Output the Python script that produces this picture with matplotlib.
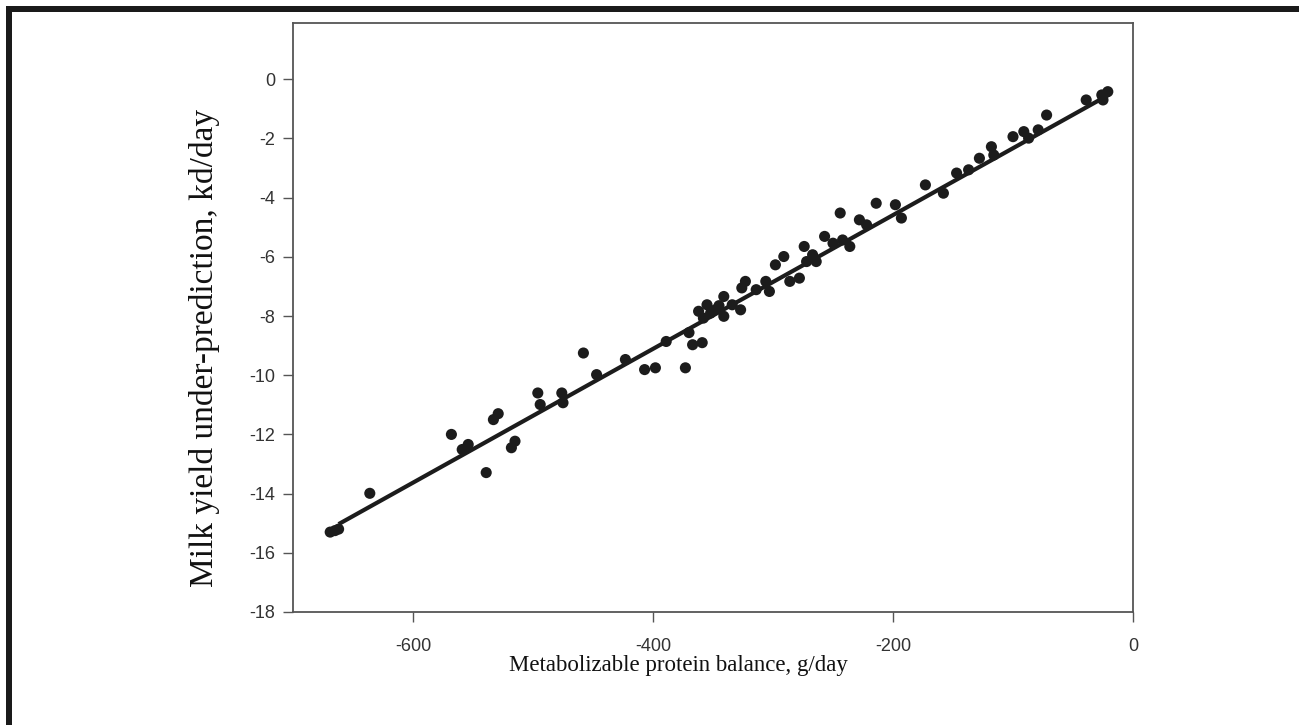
import matplotlib
matplotlib.use("Agg")
import matplotlib.pyplot as plt
from matplotlib.patches import Rectangle

# Metabolizable protein balance (g/day) and milk yield under-prediction (kg/day)
mp_balance = [-669, -665, -662, -636, -568, -559, -554, -539, -533, -529,
              -518, -515, -496, -494, -476, -475, -458, -447, -423, -407,
              -398, -389, -373, -370, -367, -359, -362, -355, -348, -341,
              -358, -352, -345, -341, -334, -327, -323, -326, -314, -306,
              -303, -298, -291, -286, -278, -272, -267, -274, -264, -257,
              -250, -242, -236, -244, -228, -222, -214, -198, -193, -173,
              -158, -147, -137, -128, -118, -116, -100, -91, -87, -79,
              -72, -39, -26, -21, -25]
milk_underpred = [-15.30, -15.25, -15.20, -13.99, -12.00, -12.51, -12.34, -13.29, -11.50, -11.30,
                  -12.45, -12.23, -10.60, -10.99, -10.60, -10.93, -9.25, -9.98, -9.47, -9.81,
                  -9.75, -8.86, -9.75, -8.56, -8.97, -8.90, -7.84, -7.62, -7.79, -8.01,
                  -8.07, -7.90, -7.65, -7.34, -7.62, -7.79, -6.83, -7.05, -7.11, -6.83,
                  -7.17, -6.27, -5.99, -6.83, -6.72, -6.16, -5.93, -5.65, -6.16, -5.31,
                  -5.54, -5.43, -5.65, -4.52, -4.75, -4.92, -4.19, -4.24, -4.69, -3.57,
                  -3.85, -3.17, -3.06, -2.67, -2.28, -2.56, -1.94, -1.77, -1.99, -1.71,
                  -1.21, -0.70, -0.53, -0.42, -0.70]

# Regression line
fit_slope = 0.0226
fit_intercept = -0.07
fit_x = [-662, -20]

x_ticks = [-600, -400, -200, 0]
y_ticks = [0, -2, -4, -6, -8, -10, -12, -14, -16, -18]

fig = plt.figure(figsize=(12.99, 7.25), dpi=100)
ax = fig.add_axes([293 / 1299, 1 - 612 / 725, (1133 - 293) / 1299, (612 - 23) / 725])

ax.scatter(mp_balance, milk_underpred, s=64, color="#1c1c1c", edgecolors="none", zorder=3)
fit_y = [fit_intercept + fit_slope * v for v in fit_x]
ax.plot(fit_x, fit_y, color="#1c1c1c", lw=3.0, solid_capstyle="butt", zorder=2)

ax.set_xlim(-700, 0)
ax.set_ylim(-18, 1.9)
ax.set_xticks(x_ticks)
ax.set_yticks(y_ticks)
ax.set_xticklabels([str(v) for v in x_ticks])
ax.set_yticklabels([str(v) for v in y_ticks])

for sp in ax.spines.values():
    sp.set_color("#555555")
    sp.set_linewidth(1.3)

ax.tick_params(axis="x", direction="out", length=7, width=1.0, color="#555555",
               pad=12, labelsize=13, labelcolor="#333333")
ax.tick_params(axis="y", direction="out", length=7, width=1.0, color="#555555",
               pad=6, labelsize=13, labelcolor="#333333")
for lab in ax.get_xticklabels() + ax.get_yticklabels():
    lab.set_family("Liberation Sans")

fig.text(678 / 1299, 1 - 665 / 725, "Metabolizable protein balance, g/day",
         family="Liberation Serif", fontsize=16.5, ha="center", va="center", color="#111111")
fig.text(205 / 1299, 1 - 348 / 725, "Milk yield under-prediction, kd/day",
         family="Liberation Serif", fontsize=24, ha="center", va="center",
         rotation=90, color="#111111")

# Frame border (left and top)
fig.patches.append(Rectangle((6 / 1299, 0), 6 / 1299, 1 - 6 / 725, transform=fig.transFigure,
                             color="#1a1a1a", lw=0))
fig.patches.append(Rectangle((6 / 1299, 1 - 12 / 725), 1 - 6 / 1299, 6 / 725,
                             transform=fig.transFigure, color="#1a1a1a", lw=0))

fig.savefig("out.png", dpi=100)
